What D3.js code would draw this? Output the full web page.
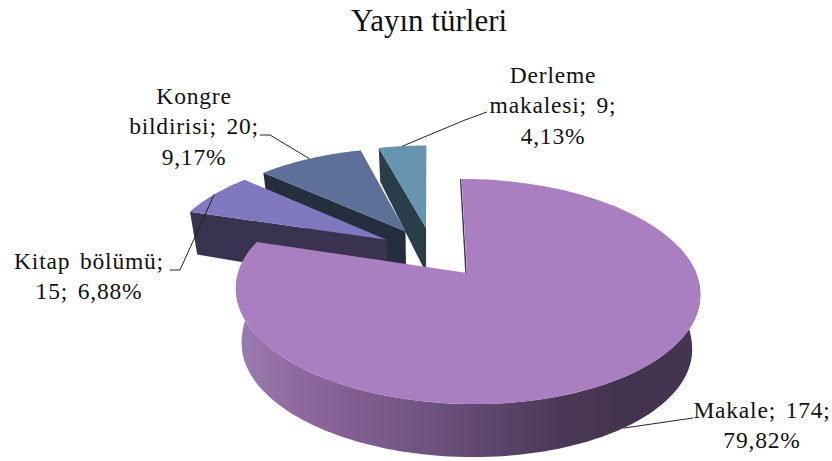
<!DOCTYPE html>
<html><head><meta charset="utf-8">
<script src="https://cdn.jsdelivr.net/npm/d3@7"></script>
<style>html,body{margin:0;padding:0;background:#fff}text{font-family:"Liberation Serif","Times New Roman",serif;fill:#111}</style>
</head><body><svg id="c" width="832" height="461"></svg>
<script>
const title = "Yayın türleri";
const categories = ["Makale","Kitap bölümü","Kongre bildirisi","Derleme makalesi"];
const counts = [174,15,20,9];
const percents = ["79,82%","6,88%","9,17%","4,13%"];
const topColors = ["#aa7fc2","#8079c0","#5d7098","#6795b0"];
const edgeColors = ["#3d2e48","#393350","#242e3f","#2a3e49"];
const labelLines = [["Makale; 174;","79,82%"],["Kitap bölümü;","15; 6,88%"],["Kongre","bildirisi; 20;","9,17%"],["Derleme","makalesi; 9;","4,13%"]];
const labelCenters = [[762,426],[89,277],[194,127],[553,106]];
const leaderElbows = [[[693,418]],[[180,270],[170,270]],[[270,135],[260,135]],[[465,120],[487,112]]];

const svg = d3.select("#c");
const x0=467,y0=273,A=229,B=109.5,p=0.1646,shrink=0.03,explode=0.245,vanishX=429,backShift=-0.003;
const extrude=d3.scaleLinear().domain([-1,-0.17,0.5,1.4]).range([53,55,44,34]);
const arcs = d3.pie().sort(null).value(d=>d)(counts);
const dir = a=>[Math.sin(a),Math.cos(a)];
const mid = d=>(d.startAngle+d.endAngle)/2;
const md = dir(mid(arcs[0]));
const offset = d=>{const m=dir(mid(d));return [explode*(m[0]-md[0])+(d.index?backShift:0),explode*(m[1]-md[1])];};
function project(u,v,bottom){
  const w=1+p*v;
  const x=vanishX+(x0-vanishX+A*u)/w, y=y0-B*v/w;
  if(!bottom) return [x,y];
  return [x+(vanishX-x)*shrink, y+extrude(v)];
}
const pt=(d,a,r,bottom)=>{const o=offset(d),m=dir(a);return project(o[0]+r*m[0],o[1]+r*m[1],bottom);};
const line=d3.line().x(q=>q[0]).y(q=>q[1]);
const closed=pts=>line(pts)+"Z";
const arcPts=(d,a0,a1,bottom)=>d3.range(0,121).map(i=>pt(d,a0+(a1-a0)*i/120,1,bottom));

const defs=svg.append("defs");
const gradX=d3.scaleLinear().domain([0,1]).range([238,694]);
const grad=defs.append("linearGradient").attr("id","side").attr("gradientUnits","userSpaceOnUse")
  .attr("x1",gradX(0)).attr("x2",gradX(1)).attr("y1",0).attr("y2",0);
[[0,"#9a7cb2"],[.14,"#8e689e"],[.42,"#6f5280"],[.7,"#4c3958"],[.85,"#44334e"],[1,"#45344f"]]
  .forEach(s=>grad.append("stop").attr("offset",s[0]).attr("stop-color",s[1]));

[3,2,1,0].forEach(i=>{
  const d=arcs[i];
  const g=svg.append("g");
  const apexT=pt(d,0,0,false),apexB=pt(d,0,0,true);
  if(i>0){
    g.append("path").attr("d",closed([apexT,pt(d,d.startAngle,1,false),pt(d,d.startAngle,1,true),apexB])).attr("fill",edgeColors[i]);
  } else {
    g.append("path").attr("d",line([apexT,pt(d,0,1,false)])).attr("fill","none").attr("stroke",edgeColors[0]).attr("stroke-width",1.4).attr("transform","translate(-1,0)");
    const a0=Math.PI*0.42,a1=Math.PI*1.58;
    g.append("path").attr("d",closed(arcPts(d,a0,a1,false).concat(arcPts(d,a1,a0,true)))).attr("fill","url(#side)");
  }
  const face=[apexT].concat(arcPts(d,d.startAngle,d.endAngle,false));
  g.append("path").attr("d",closed(face)).attr("fill",topColors[i]);
});

arcs.forEach((d,i)=>{
  const start=pt(d,mid(d),1,i===0);
  svg.append("path").attr("d",line([start].concat(leaderElbows[i]))).attr("fill","none").attr("stroke","#222").attr("stroke-width",1);
  const n=labelLines[i].length,lh=30.5;
  const t=svg.append("text").attr("text-anchor","middle").attr("font-size",23.5).attr("letter-spacing",0.8).attr("word-spacing",3);
  labelLines[i].forEach((s,k)=>{
    t.append("tspan").attr("x",labelCenters[i][0]).attr("y",labelCenters[i][1]+(k-(n-1)/2)*lh+7).text(s);
  });
});
svg.append("text").attr("x",429).attr("y",31).attr("text-anchor","middle").attr("font-size",31).text(title);
</script></body></html>
